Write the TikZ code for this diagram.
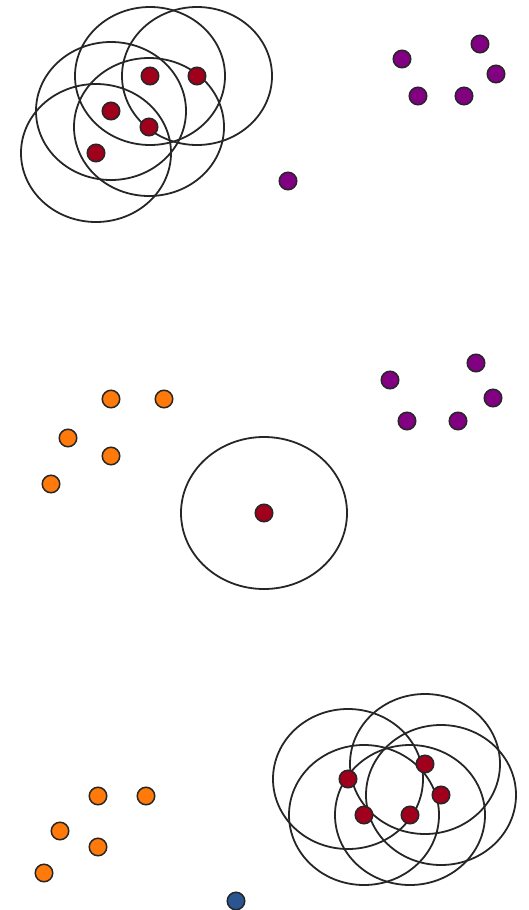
\documentclass[tikz,border=0pt]{standalone}
\usepackage{tikz}
\definecolor{dotred}{HTML}{A0001C}
\definecolor{dotpurple}{HTML}{820082}
\definecolor{dotorange}{HTML}{FF7A0A}
\definecolor{dotblue}{HTML}{2A5590}
\tikzset{
  dot/.style={circle,draw=black!85,line width=1.5pt,inner sep=0pt,minimum size=17.5pt},
  reddot/.style={dot,fill=dotred},
  purpledot/.style={dot,fill=dotpurple},
  orangedot/.style={dot,fill=dotorange},
  bluedot/.style={dot,fill=dotblue},
  ring/.style={draw=black!85,line width=1.8pt}
}

\begin{document}
\begin{tikzpicture}[x=1pt,y=-1pt]
\useasboundingbox (0,0) rectangle (529,910);

% Top: core points with their neighbourhoods
\coordinate (ta) at (150,76);
\coordinate (tb) at (197,76);
\coordinate (tc) at (111,111);
\coordinate (td) at (149,127);
\coordinate (te) at (96,153);
\foreach \p in {ta,tb,tc,td,te}
  \draw[ring] (\p) ellipse [x radius=75pt,y radius=69pt];
\foreach \p in {ta,tb,tc,td,te}
  \node[reddot] at (\p) {};

% Top: purple group and the lone point
\node[purpledot] (tp1) at (402,59) {};
\node[purpledot] (tp2) at (480,44) {};
\node[purpledot] (tp3) at (496,74) {};
\node[purpledot] (tp4) at (418,96) {};
\node[purpledot] (tp5) at (464,96) {};
\node[purpledot] (tp6) at (288,181) {};

% Middle: orange and purple groups
\node[orangedot] (mo1) at (111,399) {};
\node[orangedot] (mo2) at (164,399) {};
\node[orangedot] (mo3) at (68,438) {};
\node[orangedot] (mo4) at (111,456) {};
\node[orangedot] (mo5) at (51,484) {};
\node[purpledot] (mp1) at (390,380) {};
\node[purpledot] (mp2) at (476,363) {};
\node[purpledot] (mp3) at (493,398) {};
\node[purpledot] (mp4) at (407,421) {};
\node[purpledot] (mp5) at (458,421) {};

% Middle: single point with its neighbourhood
\coordinate (mc) at (264,513);
\draw[ring] (mc) ellipse [x radius=83pt,y radius=76pt];
\node[reddot] (mr) at (mc) {};

% Bottom: core points with their neighbourhoods
\coordinate (ba) at (348,779);
\coordinate (bb) at (425,764);
\coordinate (bc) at (441,795);
\coordinate (bd) at (364,815);
\coordinate (be) at (410,815);
\foreach \p in {ba,bb,bc,bd,be}
  \draw[ring] (\p) ellipse [x radius=75pt,y radius=70pt];
\foreach \p in {ba,bb,bc,bd,be}
  \node[reddot] at (\p) {};

% Bottom: orange group and the noise point
\node[orangedot] (bo1) at (98,796) {};
\node[orangedot] (bo2) at (146,796) {};
\node[orangedot] (bo3) at (60,831) {};
\node[orangedot] (bo4) at (98,847) {};
\node[orangedot] (bo5) at (44,873) {};
\node[bluedot] (bn) at (236,901) {};
\end{tikzpicture}
\end{document}
